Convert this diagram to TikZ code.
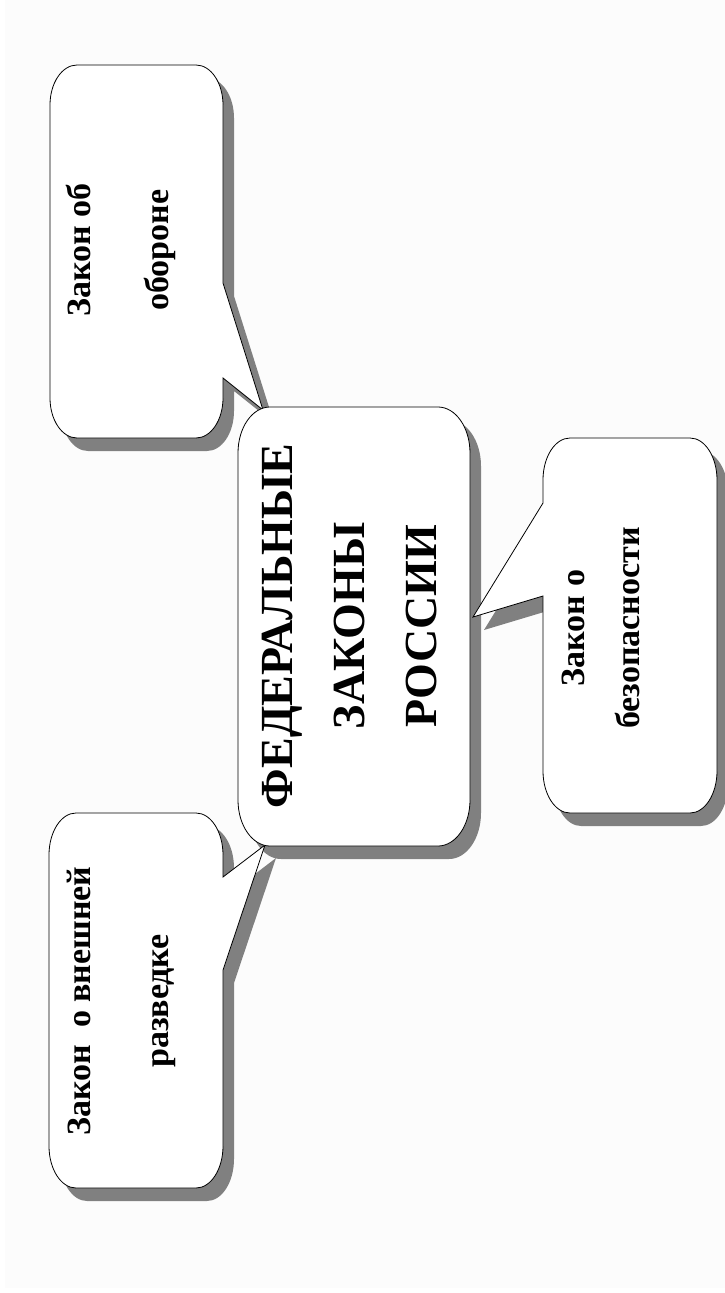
\documentclass[tikz,border=0pt]{standalone}
\usepackage{fontspec}
\setmainfont{Liberation Serif}
\definecolor{pagegray}{HTML}{FCFCFC}
\begin{document}
\begin{tikzpicture}[x=1pt, y=-1pt,
    bubbleshadow/.style={fill=black!50, draw=none},
    bubble/.style={fill=white, draw=black, line width=0.8pt},
    words/.style={rotate=90, align=center, inner sep=0pt},
    small/.style={font=\fontsize{34}{78}\selectfont\bfseries},
    big/.style={font=\fontsize{46}{72}\selectfont\bfseries}]
  \useasboundingbox (0,0) rectangle (725,1293);
  \fill [pagegray] (5,0) rectangle (725,1288);
  % shadows first, then the white callouts
  \foreach \dx/\dy/\look in {11/13/bubbleshadow, 0/0/bubble} {
    % top callout
    \path [\look, shift={(\dx,\dy)}] (223,283) -- (223,105)
      arc [start angle=0, end angle=-90, x radius=27, y radius=40] -- (77,65)
      arc [start angle=-90, end angle=-180, x radius=27, y radius=40] -- (50,398)
      arc [start angle=180, end angle=90, x radius=27, y radius=40] -- (196,438)
      arc [start angle=90, end angle=0, x radius=27, y radius=40] -- (223,378)
      -- (263,410) -- cycle;
    % bottom callout
    \path [\look, shift={(\dx,\dy)}] (223,877) -- (223,855)
      arc [start angle=0, end angle=-90, x radius=27, y radius=42] -- (76,813)
      arc [start angle=-90, end angle=-180, x radius=27, y radius=42] -- (49,1146)
      arc [start angle=180, end angle=90, x radius=27, y radius=42] -- (196,1188)
      arc [start angle=90, end angle=0, x radius=27, y radius=42] -- (223,970)
      -- (265,845) -- cycle;
    % right callout
    \path [\look, shift={(\dx,\dy)}] (543,503) -- (473,617) -- (543,596) -- (543,771)
      arc [start angle=180, end angle=90, x radius=27, y radius=42] -- (690,813)
      arc [start angle=90, end angle=0, x radius=27, y radius=42] -- (717,480)
      arc [start angle=0, end angle=-90, x radius=27, y radius=42] -- (570,438)
      arc [start angle=-90, end angle=-180, x radius=27, y radius=42] -- cycle;
    % middle box
    \path [\look, shift={(\dx,\dy)}] (238,453)
      arc [start angle=180, end angle=270, x radius=32, y radius=46] -- (438,407)
      arc [start angle=270, end angle=360, x radius=32, y radius=46] -- (470,800)
      arc [start angle=0, end angle=90, x radius=32, y radius=46] -- (270,846)
      arc [start angle=90, end angle=180, x radius=32, y radius=46] -- cycle;
  }
  \node [words, small] (oborona) at (121,250) {Закон об\\обороне};
  \node [words, small] (razvedka) at (121,1001) {Закон\ \ о внешней\\разведке};
  \node [words, font=\fontsize{34}{55}\selectfont\bfseries] (bezopasnost) at (601,628) {Закон о\\безопасности};
  \node [words, big] (zakony) at (350,626) {ФЕДЕРАЛЬНЫЕ\\ЗАКОНЫ\\РОССИИ};
\end{tikzpicture}
\end{document}
